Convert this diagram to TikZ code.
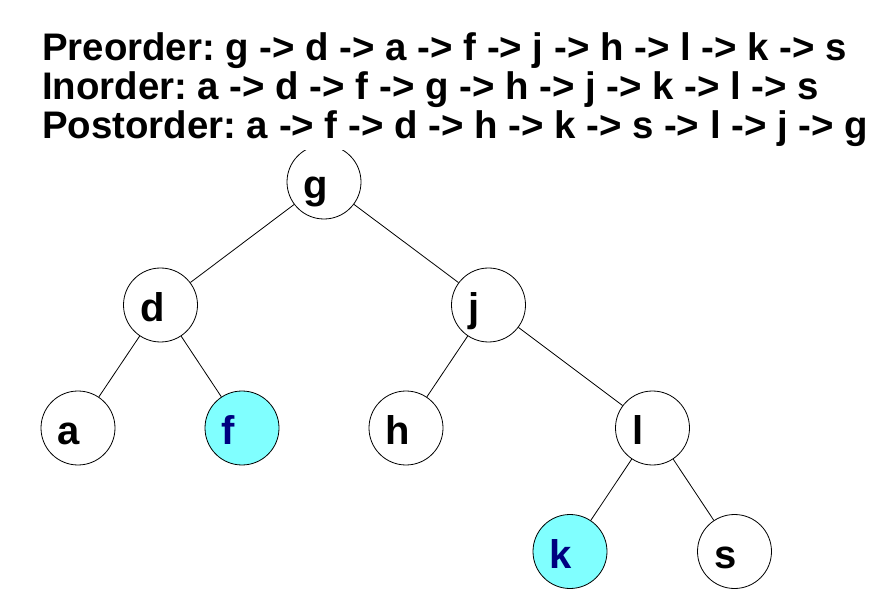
\documentclass[tikz,border=0pt]{standalone}
\usepackage{fontspec}
\setmainfont{Liberation Sans}
\frenchspacing
\newcommand\orderfont{\fontsize{38.4}{38.4}\selectfont\bfseries}
\begin{document}
\begin{tikzpicture}[x=1pt,y=-1pt,
  tnode/.style={circle,draw=black,line width=0.8pt,fill=white,minimum size=74pt,inner sep=0pt},
  hit/.style={tnode,fill=cyanfill},
  lbl/.style={anchor=base west,inner sep=0pt,font=\fontsize{40}{40}\selectfont\bfseries},
  hitlbl/.style={lbl,text=navytext},
  edge/.style={draw=black,line width=0.8pt},
  order/.style={anchor=base west,inner sep=0pt,fill=white,text height=28pt,text depth=11pt,
    font=\orderfont}]
\definecolor{cyanfill}{HTML}{80FFFF}
\definecolor{navytext}{HTML}{000080}
\useasboundingbox[fill=white] (0,0) rectangle (892,612);

% tree nodes
\node[tnode] (g) at (324,182) {};
\node[tnode] (d) at (160.5,305) {};
\node[tnode] (j) at (488.5,305) {};
\node[tnode] (a) at (78,428) {};
\node[hit]   (f) at (242,428) {};
\node[tnode] (h) at (406,428) {};
\node[tnode] (l) at (652.5,428) {};
\node[hit]   (k) at (570,551.5) {};
\node[tnode] (s) at (734.5,551.5) {};

% node letters, set left of centre
\foreach \n in {g,d,j,a,h,l,s}
  \node[lbl] (\n-t) at ([xshift=17pt,yshift=-16.5pt]\n.west) {\n};
\foreach \n in {f,k}
  \node[hitlbl] (\n-t) at ([xshift=17pt,yshift=-16.5pt]\n.west) {\n};

% edges
\draw[edge] (g) -- (d);
\draw[edge] (g) -- (j);
\draw[edge] (d) -- (a);
\draw[edge] (d) -- (f);
\draw[edge] (j) -- (h);
\draw[edge] (j) -- (l);
\draw[edge] (l) -- (k);
\draw[edge] (l) -- (s);

% traversal orders
\node[order] (pre) at (42,60.7) {Preorder: g -> d -> a -> f -> j -> h -> l -> k -> s};
\node[order] (in) at (42,100) {Inorder: a -> d -> f -> g -> h -> j -> k -> l -> s};
\node[order] (post) at (42,139) {Postorder: a -> f -> d -> h -> k -> s -> l -> j -> g};
\end{tikzpicture}
\end{document}
